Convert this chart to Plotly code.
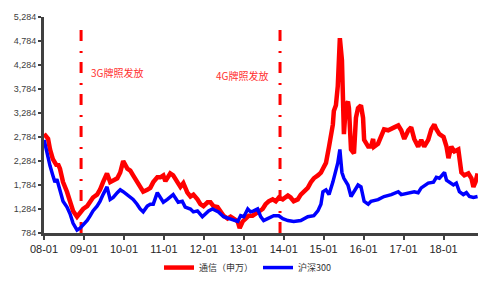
import plotly.graph_objects as go

# 通信(申万) series
red_dates = ["2008-01-02","2008-02-07","2008-02-25","2008-03-22","2008-04-28","2008-05-07","2008-05-26","2008-06-23","2008-07-29","2008-08-26",
             "2008-09-23","2008-10-29","2008-11-26","2008-12-24","2009-01-30","2009-02-27","2009-03-24","2009-04-30","2009-05-27","2009-06-24",
             "2009-07-30","2009-08-28","2009-09-25","2009-11-01","2009-11-28","2009-12-25","2010-02-01","2010-02-28","2010-03-26","2010-05-01",
             "2010-05-29","2010-06-26","2010-08-02","2010-08-30","2010-09-26","2010-11-02","2010-11-30","2010-12-27","2011-01-15","2011-02-28",
             "2011-03-27","2011-05-03","2011-06-01","2011-06-28","2011-08-04","2011-09-01","2011-09-28","2011-11-04","2011-12-01","2011-12-29",
             "2012-02-04","2012-03-02","2012-03-29","2012-05-05","2012-06-02","2012-06-30","2012-08-05","2012-09-02","2012-09-30","2012-11-06",
             "2012-11-24","2012-12-21","2013-01-18","2013-02-15","2013-03-22","2013-04-19","2013-05-16","2013-06-22","2013-07-19","2013-08-16",
             "2013-09-22","2013-10-20","2013-11-17","2013-12-23","2014-02-08","2014-03-05","2014-04-02","2014-05-09","2014-06-06","2014-07-03",
             "2014-08-09","2014-09-06","2014-10-03","2014-11-09","2014-12-07","2014-12-25","2015-01-22","2015-02-19","2015-03-26","2015-04-04",
             "2015-04-23","2015-05-10","2015-05-19","2015-05-29","2015-06-17","2015-06-26","2015-07-05","2015-07-23","2015-08-11","2015-08-20",
             "2015-09-08","2015-10-05","2015-10-23","2015-11-11","2015-12-08","2015-12-27","2016-01-06","2016-02-12","2016-03-09","2016-03-28",
             "2016-04-06","2016-05-12","2016-06-09","2016-07-06","2016-08-13","2016-09-10","2016-10-07","2016-11-13","2016-12-10","2017-01-07",
             "2017-02-13","2017-03-11","2017-04-08","2017-05-14","2017-06-11","2017-07-08","2017-08-14","2017-09-11","2017-10-09","2017-10-27",
             "2017-11-24","2018-01-01","2018-01-28","2018-02-15","2018-03-13","2018-04-10","2018-05-16","2018-06-13","2018-07-10","2018-08-16",
             "2018-09-13","2018-10-01","2018-10-20","2018-11-08"]
red_values = [2850,2750,2524,2324,2184,2224,2124,1844,1644,1444,
              1244,1124,1224,1284,1344,1444,1524,1584,1684,1844,
              2024,1844,1884,1924,2044,2284,2124,2084,1984,1844,
              1744,1644,1684,1724,1844,1944,1944,1984,1864,2024,
              1984,1844,1744,1824,1624,1544,1584,1484,1384,1344,
              1424,1424,1344,1324,1244,1144,1084,1124,1084,1024,
              884,1024,1084,1144,1144,1184,1244,1284,1384,1444,
              1484,1444,1524,1484,1564,1524,1444,1484,1584,1644,
              1724,1844,1924,1984,2044,2124,2244,2584,3044,3324,
              3444,3844,4784,4844,4384,3184,2844,3444,3524,3384,
              2524,2444,3184,3384,3444,3184,2724,2584,2584,2744,
              2584,2644,2784,2944,2924,2944,2984,3024,2924,2744,
              2924,2984,2744,2584,2724,2584,2724,2944,3044,2944,
              2844,2784,2584,2344,2584,2484,2524,2044,1984,2024,
              1924,1744,1844,2024]

# 沪深300 series
blue_dates = ["2008-01-02","2008-01-28","2008-02-25","2008-03-22","2008-04-10","2008-04-28","2008-05-26","2008-06-23","2008-07-29","2008-08-26",
              "2008-09-23","2008-10-29","2008-11-26","2008-12-24","2009-01-30","2009-02-27","2009-03-24","2009-04-30","2009-05-27","2009-06-24",
              "2009-07-30","2009-08-28","2009-09-25","2009-11-01","2009-11-28","2009-12-25","2010-02-01","2010-02-28","2010-03-26","2010-05-01",
              "2010-05-29","2010-06-26","2010-08-02","2010-08-30","2010-09-26","2010-11-02","2010-11-30","2010-12-27","2011-02-02","2011-03-27",
              "2011-05-12","2011-06-18","2011-07-15","2011-09-01","2011-09-28","2011-11-04","2011-12-19","2012-01-16","2012-02-14","2012-03-20",
              "2012-04-17","2012-05-14","2012-06-30","2012-08-14","2012-09-30","2012-11-06","2012-12-03","2013-01-01","2013-02-06","2013-03-04",
              "2013-04-01","2013-05-07","2013-06-04","2013-07-01","2013-08-07","2013-10-01","2013-11-17","2013-12-23","2014-02-08","2014-04-02",
              "2014-06-06","2014-08-09","2014-10-03","2014-11-09","2014-12-07","2014-12-25","2015-01-22","2015-02-19","2015-03-26","2015-04-23",
              "2015-05-10","2015-05-29","2015-06-17","2015-07-05","2015-08-11","2015-09-08","2015-10-05","2015-11-11","2015-12-08","2016-01-06",
              "2016-02-12","2016-03-09","2016-05-12","2016-07-06","2016-09-10","2016-11-13","2016-12-10","2017-02-13","2017-04-08","2017-05-14",
              "2017-06-11","2017-08-14","2017-10-01","2017-10-27","2017-11-24","2018-01-01","2018-01-10","2018-01-28","2018-02-24","2018-04-01",
              "2018-04-28","2018-05-26","2018-07-01","2018-07-29","2018-08-26","2018-10-01","2018-11-08"]
blue_values = [2724,2444,2184,1984,1844,1904,1644,1444,1324,1184,
               984,844,884,944,1044,1144,1244,1344,1444,1584,
               1744,1484,1524,1624,1684,1644,1584,1544,1484,1384,
               1284,1224,1344,1384,1384,1624,1524,1424,1484,1584,
               1424,1444,1324,1284,1224,1244,1124,1184,1244,1284,
               1244,1224,1124,1084,1044,1024,1144,1124,1284,1224,
               1244,1284,1124,1044,1084,1144,1144,1084,1044,1024,
               1044,1124,1144,1244,1384,1644,1684,1584,1844,2124,
               2244,2524,2044,1924,1784,1544,1644,1784,1744,1444,
               1384,1444,1480,1544,1584,1644,1584,1624,1644,1624,
               1724,1824,1844,1944,1924,2024,2044,1884,1844,1784,
               1824,1644,1584,1624,1544,1524,1544]

# Events
event_dates = ["2008-12-05", "2013-11-28"]
event_labels = ["3G牌照发放", "4G牌照发放"]
event_label_y = [4124, 4064]
event_label_side = ["right", "left"]

y_ticks = [784, 1284, 1784, 2284, 2784, 3284, 3784, 4284, 4784, 5284]

fig = go.Figure()
fig.add_trace(go.Scatter(x=red_dates, y=red_values, mode="lines", name="通信（申万）",
                         line=dict(color="#ff0000", width=4.5)))
fig.add_trace(go.Scatter(x=blue_dates, y=blue_values, mode="lines", name="沪深300",
                         line=dict(color="#0000ff", width=3.5)))

for d, lab, ly, side in zip(event_dates, event_labels, event_label_y, event_label_side):
    fig.add_shape(type="line", xref="x", yref="y", x0=d, x1=d, y0=784, y1=5124,
                  line=dict(color="#ff0000", width=3, dash="11px,9px,2px,10px"), layer="below")
    fig.add_annotation(x=d, y=ly, xref="x", yref="y", text=lab, showarrow=False,
                       xanchor="left" if side == "right" else "right",
                       xshift=8 if side == "right" else -10,
                       font=dict(family="Noto Sans CJK SC", size=10, color="#ff3030"))

fig.update_layout(
    width=491, height=294,
    margin=dict(l=44, r=13, t=15, b=54),
    paper_bgcolor="white", plot_bgcolor="white",
    showlegend=True,
    legend=dict(orientation="h", x=0.265, xanchor="left", y=-0.16, yanchor="middle",
                font=dict(family="Noto Sans CJK SC", size=9, color="#333333"),
                itemwidth=30, tracegroupgap=0),
)
fig.update_xaxes(
    type="date", range=["2008-01-01", "2018-11-12"],
    tick0="2008-01-01", dtick="M12", tickformat="%y-%m",
    showline=True, linecolor="#404040", linewidth=3,
    ticks="outside", ticklen=4, tickcolor="#404040", tickwidth=2,
    showgrid=False, zeroline=False,
    tickfont=dict(family="Liberation Sans", size=11, color="#262626"),
)
fig.update_yaxes(
    range=[784, 5284], tickvals=y_ticks, tickformat=",",
    showline=True, linecolor="#404040", linewidth=3,
    ticks="outside", ticklen=3, tickcolor="#404040", tickwidth=2,
    showgrid=False, zeroline=False,
    tickfont=dict(family="Liberation Sans", size=9, color="#404040"),
)

fig.write_html("out.html")
